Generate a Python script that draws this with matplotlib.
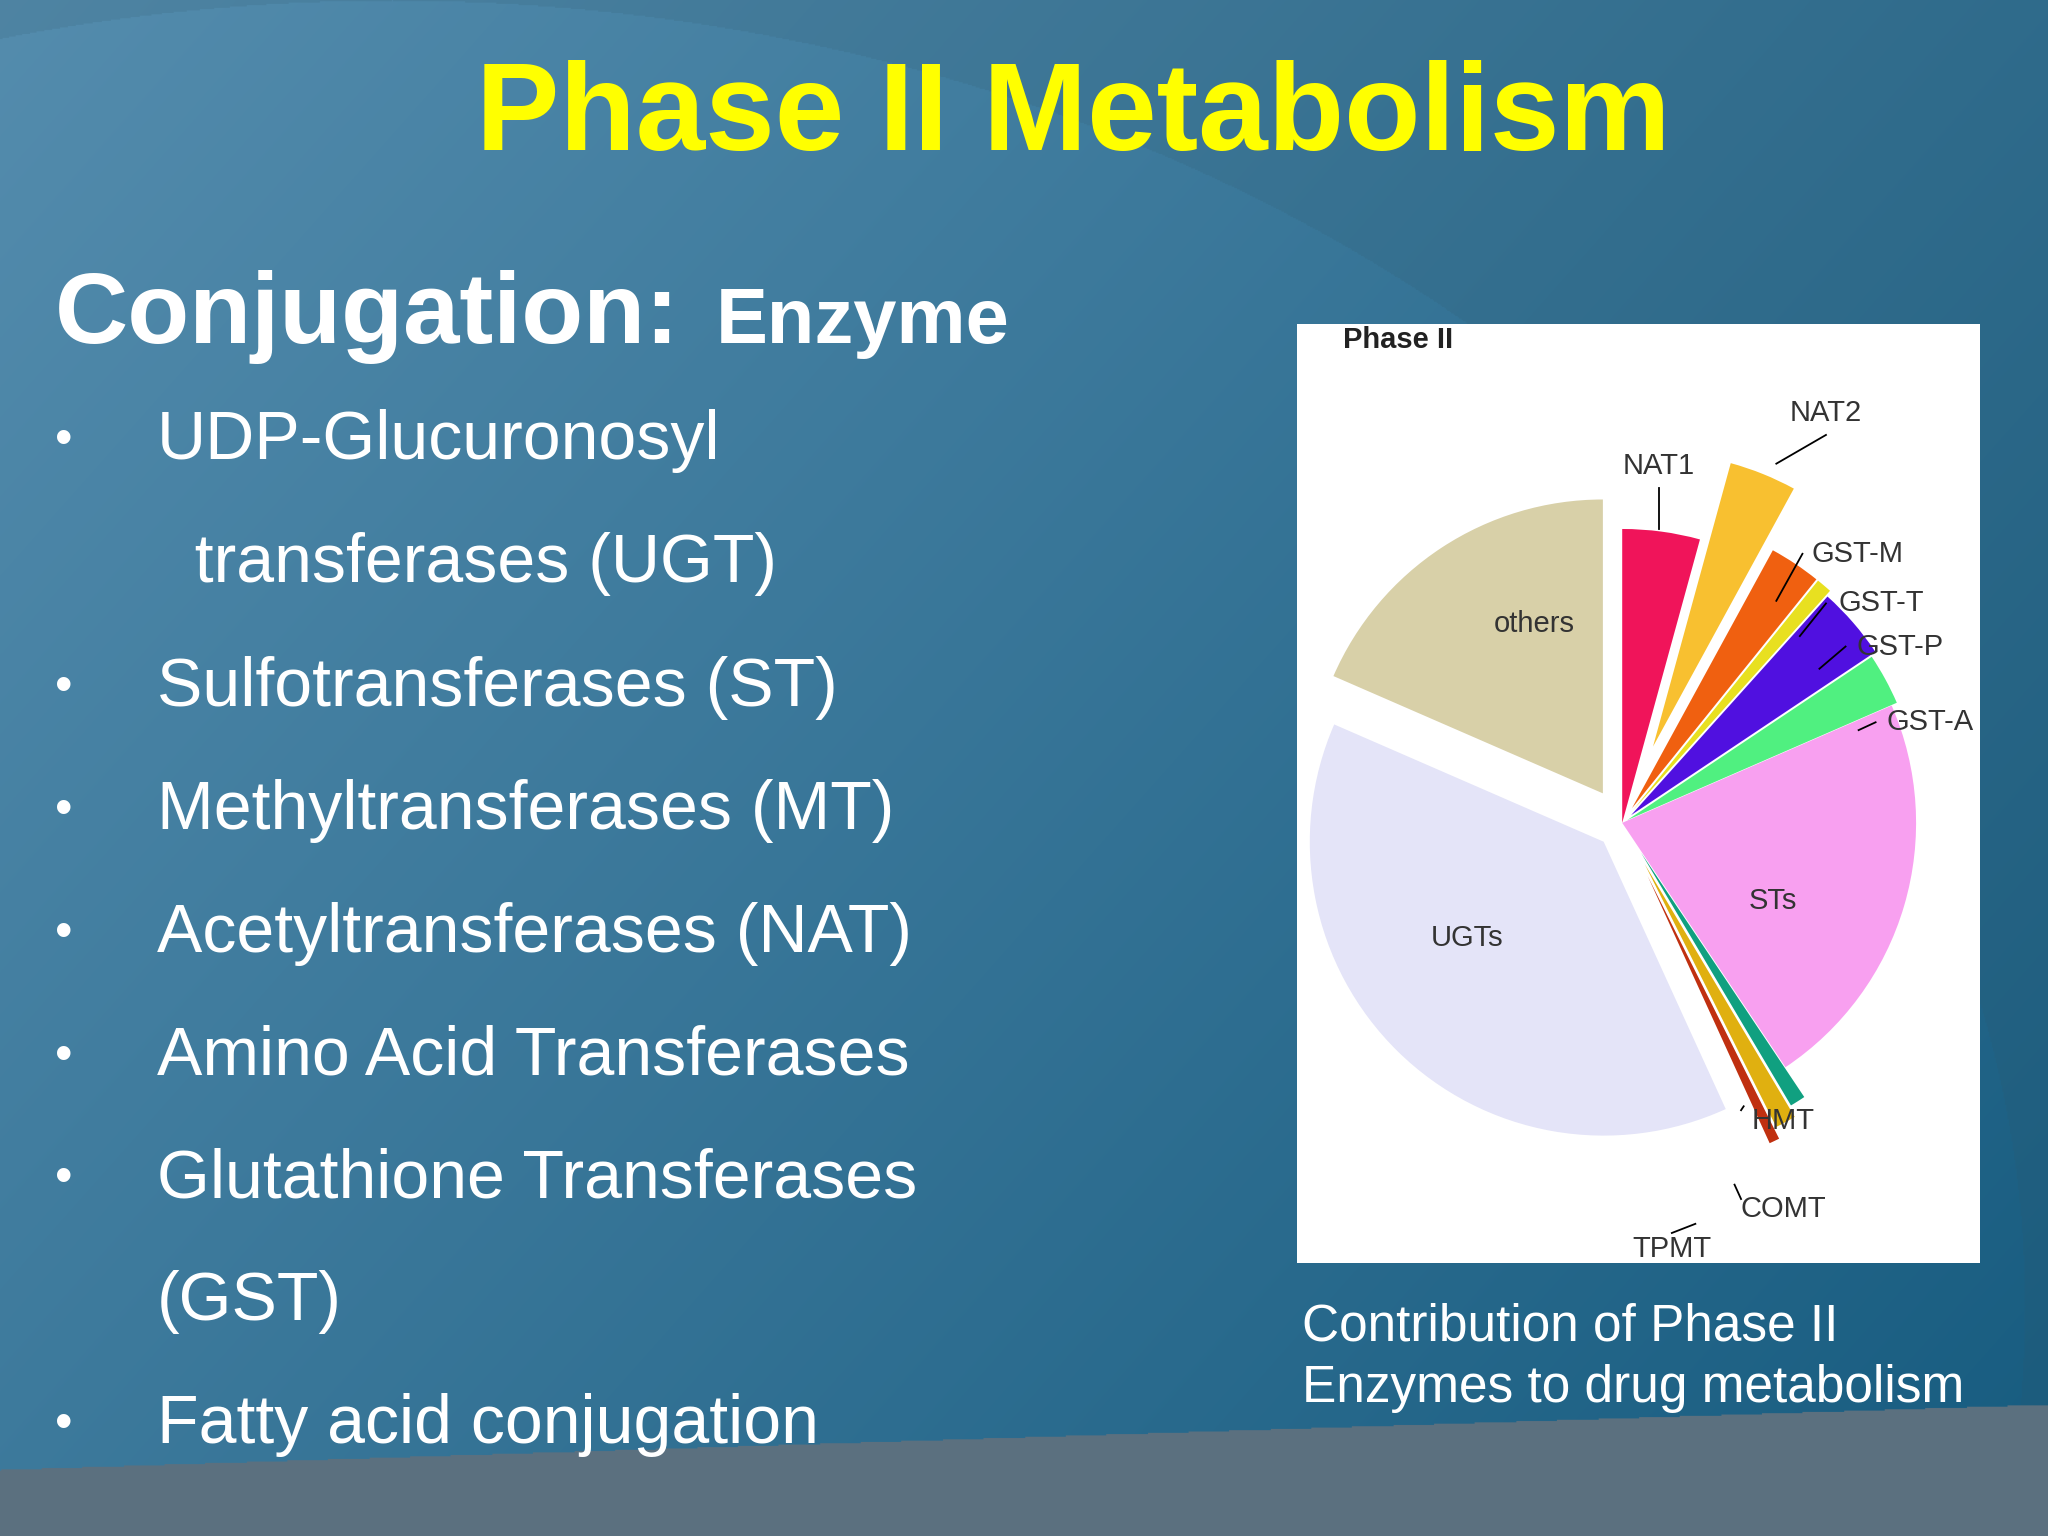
import numpy as np
import matplotlib
matplotlib.use("Agg")
import matplotlib.pyplot as plt

plt.rcParams['font.family'] = ['Liberation Sans', 'DejaVu Sans']

# ---- data ----
enzymes = ["NAT1", "NAT2", "GST-M", "GST-T", "GST-P", "GST-A", "STs",
           "HMT", "COMT", "TPMT", "UGTs", "others"]
shares = [15, 13, 10, 3, 14, 10, 78, 3, 4, 2, 135, 65]
colors = ["#f0145a", "#f8c030", "#f06010", "#e8e020", "#5010e0", "#50f080",
          "#f8a0f0", "#10a080", "#e0b010", "#c03010", "#e4e4f8", "#d8d0a8"]
explode = [0, 0.28, 0.06, 0.06, 0.04, 0.02, 0, 0.12, 0.16, 0.2, 0.09, 0.12]
bullets = ["UDP-Glucuronosyl", "  transferases (UGT)", "Sulfotransferases (ST)",
           "Methyltransferases (MT)", "Acetyltransferases (NAT)",
           "Amino Acid Transferases", "Glutathione Transferases", "(GST)",
           "Fatty acid conjugation"]
bullet_mark = [True, False, True, True, True, True, True, False, True]

W, H = 1568, 1176
fig = plt.figure(figsize=(20.48, 15.36), dpi=100)

# background
bg = fig.add_axes([0, 0, 1, 1])
yy, xx = np.mgrid[0:H, 0:W]
t = np.clip(xx / W * 0.6 + yy / H * 0.4, 0, 1)
c1 = np.array([0.33, 0.55, 0.68]); c2 = np.array([0.09, 0.36, 0.50])
img = c1 * (1 - t[..., None]) + c2 * t[..., None]
arc = (xx - 300) ** 2 / 1250 ** 2 + (yy - 1000) ** 2 / 1000 ** 2 > 1
img[arc] = img[arc] * 0.85 + np.array([0.18, 0.33, 0.40]) * 0.15
band = yy > 1125 - (xx / W) * 50
img[band] = np.array([0.36, 0.44, 0.50])
bg.imshow(img, extent=[0, W, H, 0], aspect='auto')
bg.set_xlim(0, W); bg.set_ylim(H, 0); bg.axis('off')

fig.text(822 / W, 1 - 90 / H, "Phase II Metabolism", color="#ffff00",
         fontsize=90, fontweight='bold', ha='center', va='center')
fig.text(42 / W, 1 - 243 / H, "Conjugation:", color="white", fontsize=73,
         fontweight='bold', ha='left', va='center')
fig.text(548 / W, 1 - 247 / H, "Enzyme", color="white", fontsize=56,
         fontweight='bold', ha='left', va='center')
ys = [338, 432, 527, 621, 715, 809, 903, 997, 1091]
for txt, y, m in zip(bullets, ys, bullet_mark):
    if m:
        fig.text(42 / W, 1 - y / H, "•", color="white", fontsize=36, va='center')
    fig.text(120 / W, 1 - y / H, txt, color="white", fontsize=49, va='center')
fig.text(997 / W, 1 - 1016 / H, "Contribution of Phase II", color="white",
         fontsize=37, va='center')
fig.text(997 / W, 1 - 1063 / H, "Enzymes to drug metabolism", color="white",
         fontsize=37, va='center')

# pie panel
ax = fig.add_axes([993 / W, 1 - 967 / H, 523 / W, 719 / H])
ax.set_facecolor('white')
R = 225
ax.pie(shares, colors=colors, explode=[e * R for e in explode], startangle=90,
       counterclock=False, center=(249, 337), radius=R, frame=True)
ax.set_xlim(0, 523); ax.set_ylim(0, 719)
ax.set_aspect('auto')
ax.set_xticks([]); ax.set_yticks([])
for s in ax.spines.values():
    s.set_visible(False)

labels = {"NAT2": (405, 651), "NAT1": (277, 610), "GST-M": (429, 543),
          "GST-T": (447, 505), "GST-P": (462, 472), "GST-A": (485, 414),
          "others": (182, 489), "STs": (364, 277), "UGTs": (130, 249),
          "HMT": (372, 109), "COMT": (372, 41), "TPMT": (287, 11)}
tips = {"NAT2": (367, 612), "NAT1": (277, 562), "GST-M": (367, 507),
        "GST-T": (385, 480), "GST-P": (400, 455), "GST-A": (430, 408),
        "HMT": (342, 120), "COMT": (335, 60), "TPMT": (305, 30)}
for k, (x, y) in labels.items():
    ax.text(x, y, k, fontsize=21, color="#333333", ha='center', va='center')
    if k in tips:
        tx, ty = tips[k]
        sx, sy = x, y
        if k in ("NAT2", "NAT1"):
            sy = y - 17
        elif k.startswith("GST"):
            sx = x - 42
        elif k in ("HMT", "COMT"):
            sx, sy = x - 32, y + 8
        else:
            sy = y + 12
        ax.plot([sx, tx], [sy, ty], color='black', lw=1.3)
ax.text(35, 707, "Phase II", fontsize=21, fontweight='bold', color="#222222",
        ha='left', va='center')

fig.savefig("out.png", dpi=100)
